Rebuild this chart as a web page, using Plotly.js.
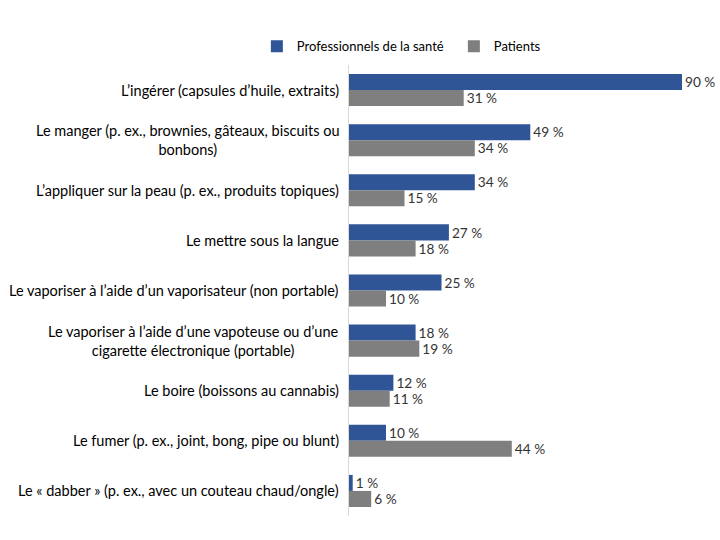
<!DOCTYPE html>
<html>
<head>
<meta charset="utf-8">
<script src="https://cdn.plot.ly/plotly-3.0.1.min.js"></script>
<style>body{margin:0;background:#fff}#chart{width:720px;height:540px}</style>
</head>
<body>
<div id="chart"></div>
<script>
const categories = [
  "L’ingérer (capsules d’huile, extraits)",
  "Le manger (p. ex., brownies, gâteaux, biscuits ou<br>bonbons)",
  "L’appliquer sur la peau (p. ex., produits topiques)",
  "Le mettre sous la langue",
  "Le vaporiser à l’aide d’un vaporisateur (non portable)",
  "Le vaporiser à l’aide d’une vapoteuse ou d’une<br>cigarette électronique (portable)",
  "Le boire (boissons au cannabis)",
  "Le fumer (p. ex., joint, bong, pipe ou blunt)",
  "Le « dabber » (p. ex., avec un couteau chaud/ongle)"
];
const professionnels = [90, 49, 34, 27, 25, 18, 12, 10, 1];
const patients = [31, 34, 15, 18, 10, 19, 11, 44, 6];
const seriesNames = ["Professionnels de la santé", "Patients"];

const font = "Lato, 'Open Sans', sans-serif";
const labelFont = {family: font, size: 14.5, color: "#333333"};

const traces = [
  {type: "bar", orientation: "h", name: seriesNames[0], y: categories, x: professionnels,
   marker: {color: "#2F5597"}, texttemplate: "%{x} %", textposition: "outside",
   textfont: labelFont, cliponaxis: false, hoverinfo: "skip"},
  {type: "bar", orientation: "h", name: seriesNames[1], y: categories, x: patients,
   marker: {color: "#7F7F7F"}, texttemplate: "%{x} %", textposition: "outside",
   textfont: labelFont, cliponaxis: false, hoverinfo: "skip"}
];

const annotations = categories.map((c, i) => ({
  xref: "paper", yref: "y", x: 0, y: i, text: c, showarrow: false,
  xanchor: "right", yanchor: "middle", align: "center", xshift: -8,
  font: {family: font, size: 14.5, color: "#000000"}
}));

const layout = {
  width: 720, height: 540,
  margin: {l: 349, r: 1, t: 65, b: 24, autoexpand: false},
  paper_bgcolor: "#ffffff", plot_bgcolor: "#ffffff",
  barmode: "group", bargap: 0.36, bargroupgap: 0,
  showlegend: true,
  legend: {orientation: "h", x: -0.249, xanchor: "left", y: 1.075, yanchor: "top",
           font: {family: font, size: 13, color: "#000000"}, traceorder: "normal",
           entrywidth: 152, entrywidthmode: "pixels", itemwidth: 30},
  xaxis: {range: [0, 100], showticklabels: false, showgrid: false, zeroline: false, showline: false, ticks: ""},
  yaxis: {type: "category", categoryarray: categories, categoryorder: "array", range: [8.5, -0.5],
          showticklabels: false, ticks: "",
          showline: true, linecolor: "#D9D9D9", linewidth: 1, showgrid: false, zeroline: false},
  annotations: annotations
};

Plotly.newPlot("chart", traces, layout, {staticPlot: true});
</script>
</body>
</html>
